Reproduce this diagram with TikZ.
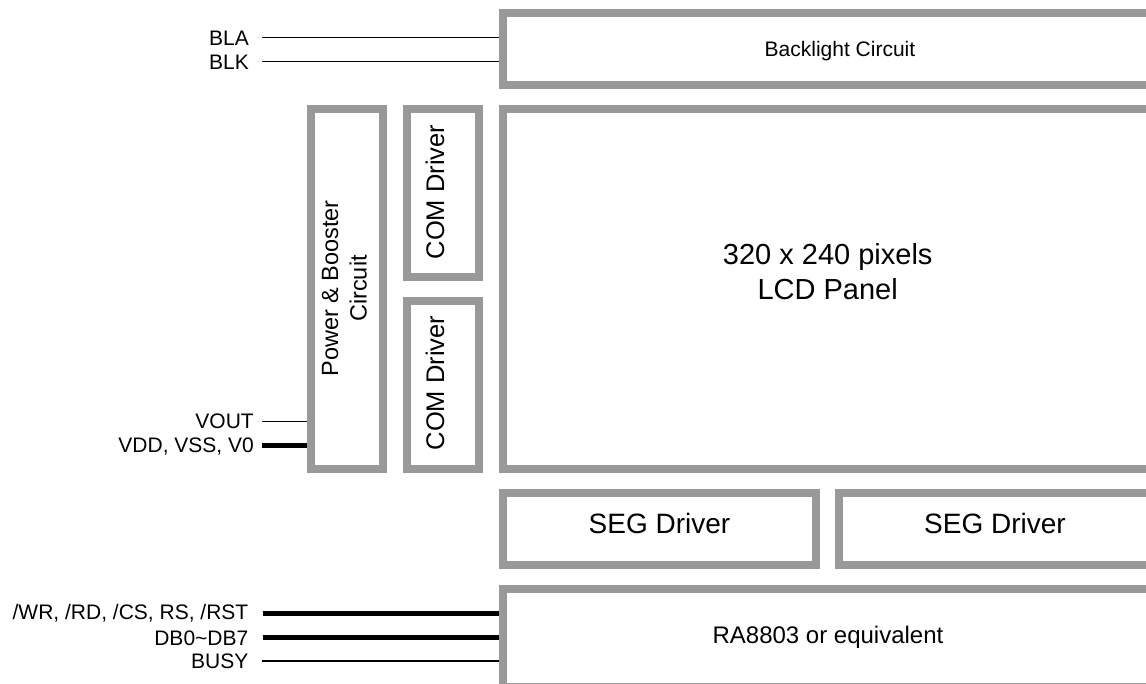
\documentclass[tikz,border=0pt]{standalone}
\usepackage{fontspec}
\setmainfont{Liberation Sans}
\definecolor{boxgray}{RGB}{153,153,153}
\begin{document}
\begin{tikzpicture}[x=1pt,y=-1pt,
  blk/.style={draw=boxgray,line width=8pt,inner sep=0pt,rectangle},
  lbl/.style={inner sep=0pt,anchor=base east,font=\fontsize{21}{25}\selectfont},
  thinw/.style={line width=1.5pt,black},
  thickw/.style={line width=5pt,black},
  ttl/.style={inner sep=0pt,anchor=base}]
\useasboundingbox (0,0) rectangle (1146,683);
\clip (0,0) rectangle (1146,683);
% blocks
\node[blk,minimum width=690pt,minimum height=72pt] (back) at (848,49) {};
\node[blk,minimum width=648pt,minimum height=360pt] (lcd) at (827,289) {};
\node[blk,minimum width=72pt,minimum height=360pt] (pwr) at (347,289) {};
\node[blk,minimum width=72pt,minimum height=168pt] (com1) at (443,193) {};
\node[blk,minimum width=72pt,minimum height=168pt] (com2) at (443,385) {};
\node[blk,minimum width=313pt,minimum height=72pt] (seg1) at (659.5,529) {};
\node[blk,minimum width=312pt,minimum height=72pt] (seg2) at (995,529) {};
\node[blk,minimum width=648pt,minimum height=98pt] (ra) at (827,638) {};
% texts
\node[ttl,font=\fontsize{21}{25}\selectfont] (backT) at (840,56) {Backlight Circuit};
\node[inner sep=0pt,align=center,font=\fontsize{29}{35}\selectfont] (lcdT) at (827.7,272) {320 x 240 pixels\\LCD Panel};
\node[inner sep=0pt,align=center,rotate=90,font=\fontsize{23.5}{28.4}\selectfont] (pwrT) at (344.3,288.5) {Power \& Booster\\Circuit};
\node[ttl,rotate=90,font=\fontsize{25.5}{30}\selectfont] (com1T) at (444,192) {COM Driver};
\node[ttl,rotate=90,font=\fontsize{25.5}{30}\selectfont] (com2T) at (444,383) {COM Driver};
\node[ttl,font=\fontsize{28}{33}\selectfont] (seg1T) at (659.5,533) {SEG Driver};
\node[ttl,font=\fontsize{28}{33}\selectfont] (seg2T) at (995,533) {SEG Driver};
\node[ttl,font=\fontsize{24}{29}\selectfont] (raT) at (828,643) {RA8803 or equivalent};
% left labels
\node[lbl] (bla) at (249,45) {BLA};
\node[lbl] (blk) at (249,69) {BLK};
\node[lbl] (vout) at (254,428.5) {VOUT};
\node[lbl] (vdd) at (254,452.7) {VDD, VSS, V0};
\node[lbl] (wr) at (248.5,619.5) {/WR, /RD, /CS, RS, /RST};
\node[lbl] (db) at (248.5,645) {DB0\textasciitilde DB7};
\node[lbl] (busy) at (248.5,668) {BUSY};
% connector start points
\coordinate (blaS) at (262,37.3);
\coordinate (blkS) at (262,61.3);
\coordinate (voutS) at (262,421.7);
\coordinate (vddS) at (262,445.7);
\coordinate (wrS) at (262.5,613.7);
\coordinate (dbS) at (262.5,637.7);
\coordinate (busyS) at (262,661);
% connectors
\draw[thinw] (blaS) -- (blaS -| back.west);
\draw[thinw] (blkS) -- (blkS -| back.west);
\draw[thinw] (voutS) -- (voutS -| pwr.west);
\draw[thickw] (vddS) -- (vddS -| pwr.west);
\draw[thickw] (wrS) -- (wrS -| ra.west);
\draw[thickw] (dbS) -- (dbS -| ra.west);
\draw[thinw] (busyS) -- (busyS -| ra.west);
\end{tikzpicture}
\end{document}
